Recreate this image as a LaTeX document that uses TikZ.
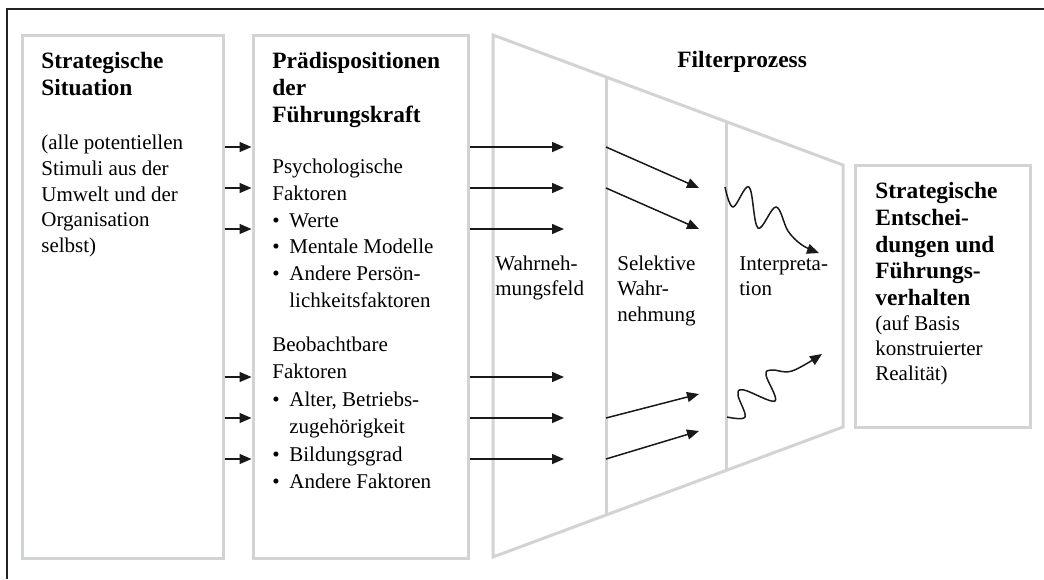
\documentclass[tikz,border=0pt]{standalone}
\usepackage{fontspec}
\setmainfont{Liberation Serif}
\usepackage{tikz}
\usetikzlibrary{arrows.meta, positioning}
\usepackage{xcolor}
\definecolor{boxgray}{RGB}{210,211,213}
\definecolor{framegray}{RGB}{35,35,35}

\tikzset{
  box/.style={draw=boxgray, line width=1.5pt, rectangle, inner sep=0pt},
  arr/.style={-{Triangle[length=6pt,width=5pt]}, line width=0.75pt, black!90},
  txt/.style={anchor=north west, align=left, inner sep=0pt, font=\fontsize{10.5}{13.3}\selectfont},
  head/.style={anchor=north west, align=left, inner sep=0pt, font=\fontsize{11.7}{13.5}\selectfont\bfseries},
}
\newcommand{\fst}{\rule{0pt}{10pt}}% first line: top sits 10pt over the baseline
\newcommand{\bul}{\makebox[8.5pt][l]{\textbullet}}
\newcommand{\ind}{\hspace*{8.5pt}}

\begin{document}
\begin{tikzpicture}[x=0.5pt, y=-0.5pt]
  \useasboundingbox (0,0) rectangle (1044,579);
  \draw[framegray, line width=1pt] (7,579) -- (7,9) -- (1044,9);

  % boxes
  \node[box, minimum width=100.5pt, minimum height=261.5pt] (sit) at (122.5,296.5) {};
  \node[box, minimum width=107.5pt, minimum height=261.5pt] (pred) at (360.5,296.5) {};
  \node[box, minimum width=87.5pt, minimum height=131pt] (out) at (942.5,296) {};

  % filter funnel
  \coordinate (ftl) at (493,35);
  \coordinate (ftr) at (843,165);
  \coordinate (fbr) at (843,427);
  \coordinate (fbl) at (493,557);
  \coordinate (d1t) at (606,77);
  \coordinate (d1b) at (606,515);
  \coordinate (d2t) at (726,123);
  \coordinate (d2b) at (726,469);
  \draw[boxgray, line width=1.5pt, line join=miter] (ftl) -- (ftr) -- (fbr) -- (fbl) -- cycle;
  \draw[boxgray, line width=1.5pt] (d1t) -- (d1b);
  \draw[boxgray, line width=1.5pt] (d2t) -- (d2b);

  % texts (y = first baseline - 20)
  \node[head] (sittitle) at (41,48) {\fst Strategische\\Situation};
  \node[txt, font=\fontsize{10.5}{12.9}\selectfont] (sitbody) at (41,129)
    {\fst(alle potentiellen\\Stimuli aus der\\Umwelt und der\\Organisation\\selbst)};

  \node[head] (predtitle) at (272,48) {\fst Prädispositionen\\der\\Führungskraft};
  \node[txt, font=\fontsize{10.5}{13.4}\selectfont] (psych) at (272,153)
    {\fst Psychologische\\Faktoren\\\bul Werte\\\bul Mentale Modelle\\\bul Andere Persön-\\\ind lichkeitsfaktoren};
  \node[txt, font=\fontsize{10.5}{13.7}\selectfont] (obs) at (272,331)
    {\fst Beobachtbare\\Faktoren\\\bul Alter, Betriebs-\\\ind zugehörigkeit\\\bul Bildungsgrad\\\bul Andere Faktoren};

  \node[head] (filter) at (677,47) {\fst Filterprozess};
  \node[txt, font=\fontsize{10.5}{12.7}\selectfont] (feld) at (495,250) {\fst Wahrneh-\\mungsfeld};
  \node[txt, font=\fontsize{10.5}{12.7}\selectfont] (sel) at (617,250) {\fst Selektive\\Wahr-\\nehmung};
  \node[txt, font=\fontsize{10.5}{12.7}\selectfont] (interp) at (739,250) {\fst Interpreta-\\tion};

  \node[head, font=\fontsize{11.7}{13.4}\selectfont\bfseries] (outtitle) at (875,178)
    {\fst Strategische\\Entschei-\\dungen und\\Führungs-\\verhalten};
  \node[txt, font=\fontsize{10.5}{12.5}\selectfont] (outbody) at (875,310)
    {\fst(auf Basis\\konstruierter\\Realität)};

  % straight arrows
  \foreach \y in {147,188,229,377,418,459} {
    \draw[arr] (sit.east |- 0,\y) -- (pred.west |- 0,\y);
    \draw[arr] (pred.east |- 0,\y) -- (564,\y);
  }
  % selective arrows
  \draw[arr] (d1t |- 0,147) -- (699,188);
  \draw[arr] (d1t |- 0,188) -- (699,229);
  \draw[arr] (d1t |- 0,418) -- (699,394);
  \draw[arr] (d1t |- 0,459) -- (699,431);

  % interpretation
  \draw[arr, smooth, tension=0.6] plot coordinates {(725,187) (733,207) (749,187) (758,228) (776,207) (788,231) (802,245) (819,253)};
  \draw[arr, smooth, tension=0.6] plot coordinates {(727,417) (745,417) (738,395) (744,390) (775,401) (766,375) (772,370) (792,371) (822,354)};
\end{tikzpicture}
\end{document}
